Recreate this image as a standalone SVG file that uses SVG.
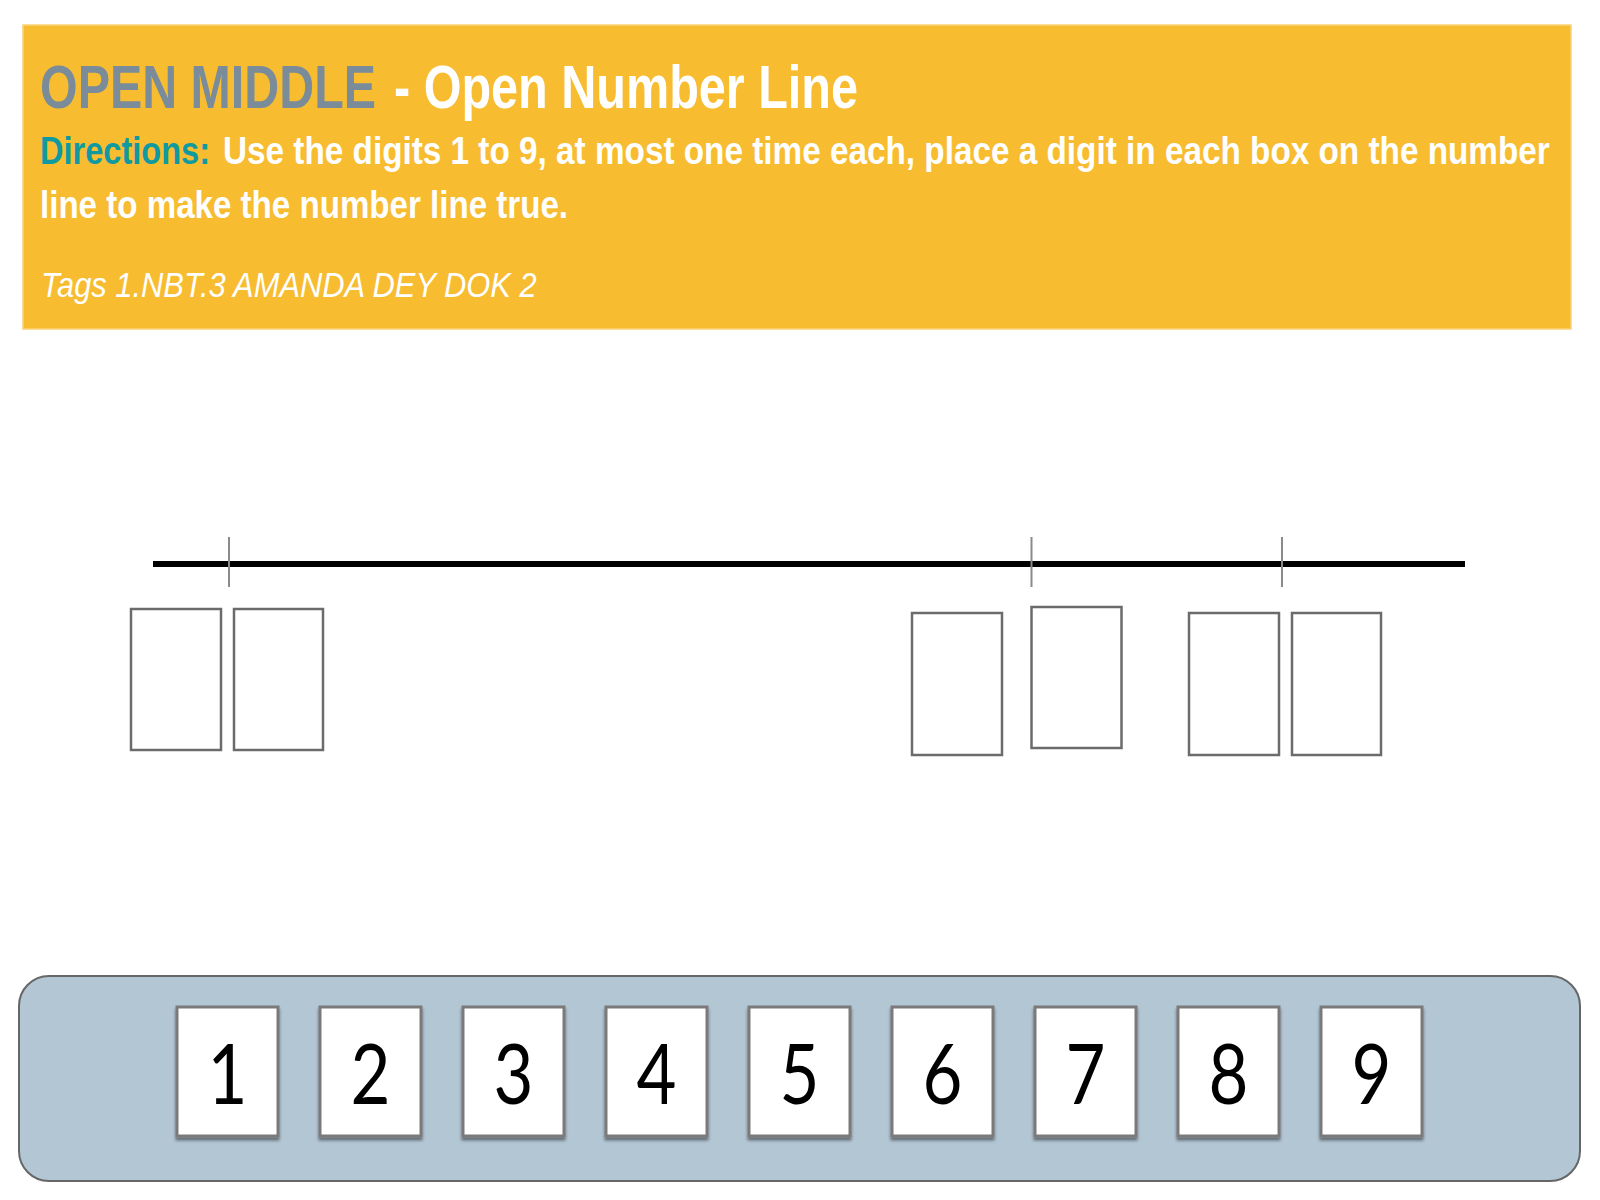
<svg xmlns="http://www.w3.org/2000/svg" width="1600" height="1200" viewBox="0 0 1600 1200">
  <defs>
    <style>
      .hdr { font-family: "Liberation Sans", Arial, sans-serif; font-weight: bold; fill: #ffffff; }
      .tags { font-family: "Liberation Sans", Arial, sans-serif; font-style: italic; fill: #ffffff; }
      .slot { fill: #ffffff; stroke: #6b6b6b; stroke-width: 2.5; }
      .tick { stroke: #8a8a8a; stroke-width: 2; }
      .card { fill: #ffffff; stroke: #7a7a7a; stroke-width: 3; }
      .digit { font-family: Lato, "Open Sans", sans-serif; font-size: 84px; fill: #000000; text-anchor: middle; }
    </style>
    <filter id="sh" x="-20%" y="-20%" width="140%" height="150%">
      <feDropShadow dx="0" dy="3" stdDeviation="1.5" flood-color="#000" flood-opacity="0.45"/>
    </filter>
  </defs>

  <rect width="1600" height="1200" fill="#ffffff"/>

  <g id="header">
    <rect x="23" y="25" width="1548" height="304" fill="#F8BC31" stroke="#FAD27A" stroke-width="1.5"/>
    <text class="hdr" transform="translate(40,108) scale(0.78,1)" x="0" y="0" font-size="62" style="fill:#7A8C99" textLength="430.8" lengthAdjust="spacingAndGlyphs">OPEN MIDDLE</text>
    <text class="hdr" transform="translate(394,108) scale(0.78,1)" x="0" y="0" font-size="62" textLength="594.9" lengthAdjust="spacingAndGlyphs">- Open Number Line</text>
    <text class="hdr" transform="translate(40,164) scale(0.78,1)" x="0" y="0" font-size="38" style="fill:#0E9AA0" textLength="218" lengthAdjust="spacingAndGlyphs">Directions:</text>
    <text class="hdr" transform="translate(223,164) scale(0.78,1)" x="0" y="0" font-size="38" textLength="1701" lengthAdjust="spacingAndGlyphs">Use the digits 1 to 9, at most one time each, place a digit in each box on the number</text>
    <text class="hdr" transform="translate(40,218) scale(0.78,1)" x="0" y="0" font-size="38" textLength="677" lengthAdjust="spacingAndGlyphs">line to make the number line true.</text>
    <text class="tags" transform="translate(41,297) scale(0.84,1)" x="0" y="0" font-size="36" textLength="590" lengthAdjust="spacingAndGlyphs">Tags 1.NBT.3 AMANDA DEY DOK 2</text>
  </g>

  <g id="number-line">
    <line x1="153" y1="564" x2="1465" y2="564" stroke="#000000" stroke-width="6"/>
    <line class="tick" x1="229" y1="537" x2="229" y2="587"/>
    <line class="tick" x1="1031.5" y1="537" x2="1031.5" y2="587"/>
    <line class="tick" x1="1282" y1="537" x2="1282" y2="587"/>
  </g>

  <g id="slots">
    <rect id="slot1" class="slot" x="131" y="609" width="90" height="141"/>
    <rect id="slot2" class="slot" x="234" y="609" width="89" height="141"/>
    <rect id="slot3" class="slot" x="912" y="613" width="90" height="142"/>
    <rect id="slot4" class="slot" x="1031.5" y="607" width="90" height="141"/>
    <rect id="slot5" class="slot" x="1189" y="613" width="90" height="142"/>
    <rect id="slot6" class="slot" x="1292" y="613" width="89" height="142"/>
  </g>

  <g id="tray">
    <rect x="19" y="976" width="1561" height="205" rx="30" ry="30" fill="#B3C6D4" stroke="#666666" stroke-width="2"/>
    <g id="card1" filter="url(#sh)"><rect class="card" x="177" y="1007" width="101" height="129"/><text class="digit" transform="translate(227.5,1104) scale(0.82,1)">1</text></g>
    <g id="card2" filter="url(#sh)"><rect class="card" x="320" y="1007" width="101" height="129"/><text class="digit" transform="translate(370.5,1104) scale(0.82,1)">2</text></g>
    <g id="card3" filter="url(#sh)"><rect class="card" x="463" y="1007" width="101" height="129"/><text class="digit" transform="translate(513.5,1104) scale(0.82,1)">3</text></g>
    <g id="card4" filter="url(#sh)"><rect class="card" x="606" y="1007" width="101" height="129"/><text class="digit" transform="translate(656.5,1104) scale(0.82,1)">4</text></g>
    <g id="card5" filter="url(#sh)"><rect class="card" x="749" y="1007" width="101" height="129"/><text class="digit" transform="translate(799.5,1104) scale(0.82,1)">5</text></g>
    <g id="card6" filter="url(#sh)"><rect class="card" x="892" y="1007" width="101" height="129"/><text class="digit" transform="translate(942.5,1104) scale(0.82,1)">6</text></g>
    <g id="card7" filter="url(#sh)"><rect class="card" x="1035" y="1007" width="101" height="129"/><text class="digit" transform="translate(1085.5,1104) scale(0.82,1)">7</text></g>
    <g id="card8" filter="url(#sh)"><rect class="card" x="1178" y="1007" width="101" height="129"/><text class="digit" transform="translate(1228.5,1104) scale(0.82,1)">8</text></g>
    <g id="card9" filter="url(#sh)"><rect class="card" x="1321" y="1007" width="101" height="129"/><text class="digit" transform="translate(1371.5,1104) scale(0.82,1)">9</text></g>
  </g>
</svg>
